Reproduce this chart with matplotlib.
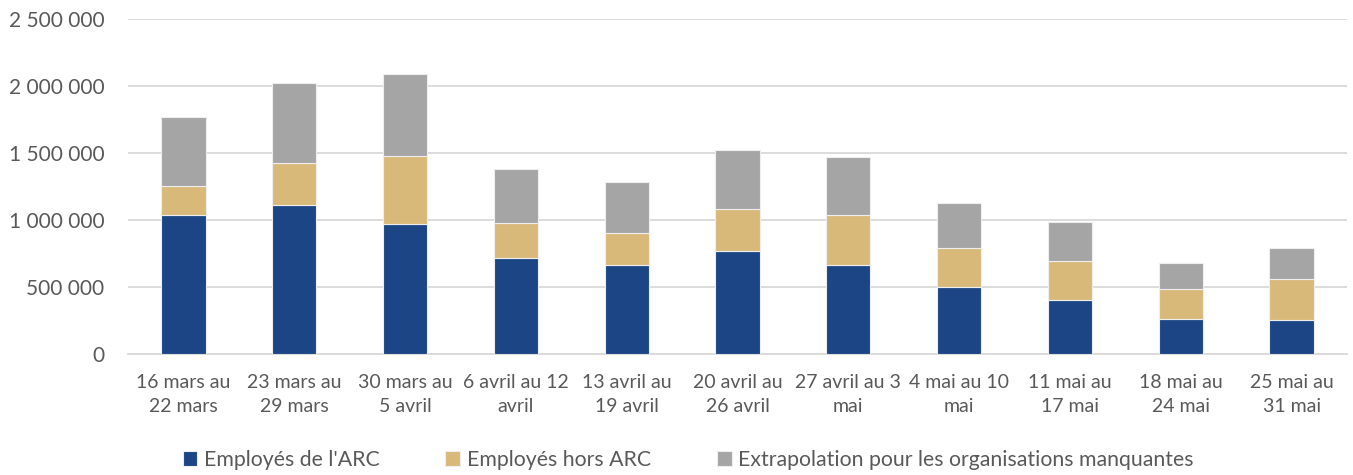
import matplotlib
matplotlib.use("Agg")
import matplotlib.pyplot as plt
from matplotlib.ticker import FuncFormatter

categories = ["16 mars au\n22 mars", "23 mars au\n29 mars", "30 mars au\n5 avril",
              "6 avril au 12\navril", "13 avril au\n19 avril", "20 avril au\n26 avril",
              "27 avril au 3\nmai", "4 mai au 10\nmai", "11 mai au\n17 mai",
              "18 mai au\n24 mai", "25 mai au\n31 mai"]
arc = [1037000, 1107000, 968000, 711000, 659000, 763000, 659000, 500000, 400000, 257000, 252000]
hors_arc = [213000, 317000, 506000, 262000, 239000, 315000, 374000, 292000, 292000, 223000, 303000]
extrapolation = [520000, 600000, 618000, 404000, 382000, 441000, 434000, 335000, 290000, 200000, 233000]
series_names = ["Employés de l'ARC", "Employés hors ARC", "Extrapolation pour les organisations manquantes"]
colors = ["#1B4584", "#D9B97A", "#A5A5A5"]

plt.rcParams['font.family'] = ['Lato', 'DejaVu Sans']
txt = "#595959"

fig = plt.figure(figsize=(13.53, 4.75), dpi=100)
ax = fig.add_axes([128/1353, 1-353.5/475, (1347-128)/1353, (353.5-19)/475])

x = list(range(len(categories)))
bottom = [0]*len(x)
for vals, name, c in zip([arc, hors_arc, extrapolation], series_names, colors):
    ax.bar(x, vals, bottom=bottom, width=0.4, color=c, label=name,
           edgecolor="#eeeeee", linewidth=0.8, zorder=3)
    bottom = [b+v for b, v in zip(bottom, vals)]

ax.set_xlim(-0.5, len(x)-0.5)
ax.set_ylim(0, 2500000)
ax.set_yticks(range(0, 2500001, 500000))
ax.yaxis.set_major_formatter(FuncFormatter(lambda v, p: f"{int(v):,}".replace(",", " ")))
ax.grid(axis='y', color="#D9D9D9", linewidth=1.3, zorder=0)
for s in ["top", "right", "left"]:
    ax.spines[s].set_visible(False)
ax.spines["bottom"].set_color("#D9D9D9")
ax.spines["bottom"].set_linewidth(1.3)
ax.set_xticks(x)
ax.set_xticklabels(categories, linespacing=1.45)
ax.tick_params(axis='both', length=0, colors=txt)
ax.tick_params(axis='x', labelsize=14, pad=15)
ax.tick_params(axis='y', labelsize=15, pad=17)

fig.legend(loc='center', bbox_to_anchor=(688/1353, 1-460/475), ncol=3, frameon=False,
           fontsize=15.3, handlelength=0.7, handleheight=0.7, handletextpad=0.3,
           columnspacing=3.1, labelcolor=txt)

fig.savefig("out.png", dpi=100)
